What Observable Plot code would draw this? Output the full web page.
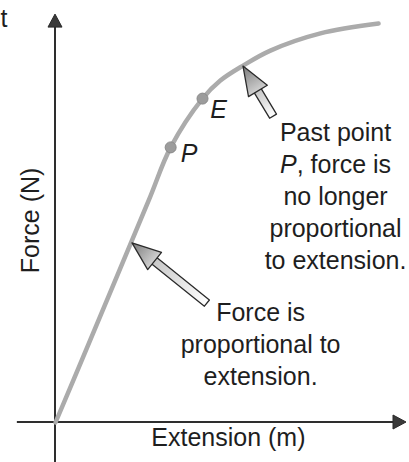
<!DOCTYPE html>
<html><head><meta charset="utf-8">
<script src="https://cdn.jsdelivr.net/npm/d3@7"></script>
<script src="https://cdn.jsdelivr.net/npm/@observablehq/plot@0.6"></script>
<style>body{margin:0;background:#fff}</style>
</head><body><div id="chart"></div>
<script>
// Curve (extension vs force, arbitrary units)
const curveX = [0, 0.77, 2.66, 3.29, 4.2, 4.71, 5.37, 6.14, 7.57, 9.23];
const curveY = [0, 1.56, 5.41, 6.71, 7.90, 8.34, 8.71, 9.07, 9.49, 9.73];
// Marked points
const pointNames = ["P", "E"];
const pointX = [3.29, 4.2];
const pointY = [6.71, 7.90];
const pointLabelX = [3.82, 4.66];
const pointLabelY = [6.56, 7.61];
// Axes (from, to) in data units
const axisFromX = [0, -1.09];
const axisFromY = [-0.98, 0];
const axisToX = [0, 10.03];
const axisToY = [9.95, 0];
// Annotation arrows (tip, tail)
const arrowTipX = [2.2, 5.37];
const arrowTipY = [4.37, 8.68];
const arrowTailX = [4.34, 6.23];
const arrowTailY = [2.90, 7.46];
// Annotation texts
const noteLines = ["Force is", "proportional to", "extension.", "Past point", "no longer", "proportional", "to extension."];
const noteX = [5.86, 5.86, 5.86, 8.0, 8.0, 8.0, 8.0];
const noteY = [2.68, 1.88, 1.10, 7.07, 5.49, 4.73, 3.95];
const italicP = {x: 6.89, y: 6.27};
const xLabel = "Extension (m)", yLabel = "Force (N)";
const xLabelPos = {x: 4.94, y: -0.37};
const yLabelPos = {x: -0.71, y: 4.93};

const curve = curveX.map((x, i) => ({x, y: curveY[i]}));
const points = pointNames.map((n, i) => ({n, x: pointX[i], y: pointY[i], lx: pointLabelX[i], ly: pointLabelY[i]}));
const notes = noteLines.map((t, i) => ({t, x: noteX[i], y: noteY[i]}));

const NS = "http://www.w3.org/2000/svg";
function el(name, attrs, parent) {
  const e = document.createElementNS(NS, name);
  for (const k in attrs) e.setAttribute(k, attrs[k]);
  if (parent) parent.appendChild(e);
  return e;
}
function pts(a) { return a.map(p => p[0].toFixed(1) + "," + p[1].toFixed(1)).join(" "); }

function axesMark(index, scales) {
  const g = el("g", {});
  for (let i = 0; i < axisFromX.length; i++) {
    const x1 = scales.x(axisFromX[i]), y1 = scales.y(axisFromY[i]);
    const x2 = scales.x(axisToX[i]), y2 = scales.y(axisToY[i]);
    const dx = x2 - x1, dy = y2 - y1, len = Math.hypot(dx, dy);
    const ux = dx / len, uy = dy / len, nx = -uy, ny = ux;
    const L = 13, W = 7;
    const bx = x2 - ux * L, by = y2 - uy * L;
    el("line", {x1, y1, x2: bx + ux * 2, y2: by + uy * 2, stroke: "#2e2e2e", "stroke-width": 2}, g);
    el("polygon", {points: pts([[x2, y2], [bx + nx * W, by + ny * W], [bx - nx * W, by - ny * W]]), fill: "#3a3a3a", stroke: "#2a2a2a", "stroke-width": 1, "stroke-linejoin": "round"}, g);
  }
  return g;
}

function blockArrows(index, scales) {
  const g = el("g", {});
  const defs = el("defs", {}, g);
  for (let i = 0; i < arrowTipX.length; i++) {
    const tx = scales.x(arrowTipX[i]), ty = scales.y(arrowTipY[i]);
    const sx = scales.x(arrowTailX[i]), sy = scales.y(arrowTailY[i]);
    const dx = tx - sx, dy = ty - sy, len = Math.hypot(dx, dy);
    const ux = dx / len, uy = dy / len, nx = -uy, ny = ux;
    const L = 29, W = 11, w = 4;
    const bx = tx - ux * L, by = ty - uy * L;
    const gid = "hg" + i, sid = "sg" + i;
    const hg = el("linearGradient", {id: gid, gradientUnits: "userSpaceOnUse", x1: tx, y1: ty, x2: bx, y2: by}, defs);
    el("stop", {offset: "0", "stop-color": "#7a7a7a"}, hg);
    el("stop", {offset: "1", "stop-color": "#d0d0d0"}, hg);
    const sg = el("linearGradient", {id: sid, gradientUnits: "userSpaceOnUse", x1: bx, y1: by, x2: sx, y2: sy}, defs);
    el("stop", {offset: "0", "stop-color": "#c8c8c8"}, sg);
    el("stop", {offset: "1", "stop-color": "#ffffff"}, sg);
    el("polygon", {points: pts([
      [bx + nx * w + ux * 2, by + ny * w + uy * 2], [sx + nx * w, sy + ny * w],
      [sx - nx * w, sy - ny * w], [bx - nx * w + ux * 2, by - ny * w + uy * 2]]),
      fill: `url(#${sid})`, stroke: "#2a2a2a", "stroke-width": 1.3, "stroke-linejoin": "round"}, g);
    el("polygon", {points: pts([[tx, ty], [bx + nx * W, by + ny * W], [bx - nx * W, by - ny * W]]),
      fill: `url(#${gid})`, stroke: "#2a2a2a", "stroke-width": 1.3, "stroke-linejoin": "round"}, g);
  }
  return g;
}

const font = "Arial, 'Liberation Sans', Helvetica, sans-serif";
const txt = {fontSize: 25, fill: "#1e1e1e", fontFamily: font};

const chart = Plot.plot({
  width: 409, height: 462,
  marginLeft: 55, marginRight: 4, marginTop: 12, marginBottom: 40,
  x: {domain: [0, 10], axis: null},
  y: {domain: [0, 10], axis: null},
  style: {fontFamily: font, background: "#fff", overflow: "visible"},
  marks: [
    axesMark,
    Plot.line(curve, {x: "x", y: "y", curve: "catmull-rom", stroke: "#ababab", strokeWidth: 4.5}),
    Plot.dot(points, {x: "x", y: "y", r: 5.5, fill: "#9c9c9c", stroke: "#8a8a8a", strokeWidth: 1}),
    Plot.text(points, {x: "lx", y: "ly", text: "n", ...txt, fontStyle: "italic"}),
    blockArrows,
    Plot.text(notes, {x: "x", y: "y", text: "t", ...txt}),
    Plot.text([italicP], {x: "x", y: "y", text: () => "P", ...txt, fontStyle: "italic", textAnchor: "end"}),
    Plot.text([italicP], {x: "x", y: "y", text: () => ", force is", ...txt, textAnchor: "start"}),
    Plot.text([xLabelPos], {x: "x", y: "y", text: () => xLabel, ...txt}),
    Plot.text([yLabelPos], {x: "x", y: "y", text: () => yLabel, ...txt, rotate: -90}),
    Plot.text([{x: -1.37, y: 9.85}], {x: "x", y: "y", text: () => "t", ...txt, textAnchor: "end"})
  ]
});
document.getElementById("chart").appendChild(chart);
</script>
</body></html>
